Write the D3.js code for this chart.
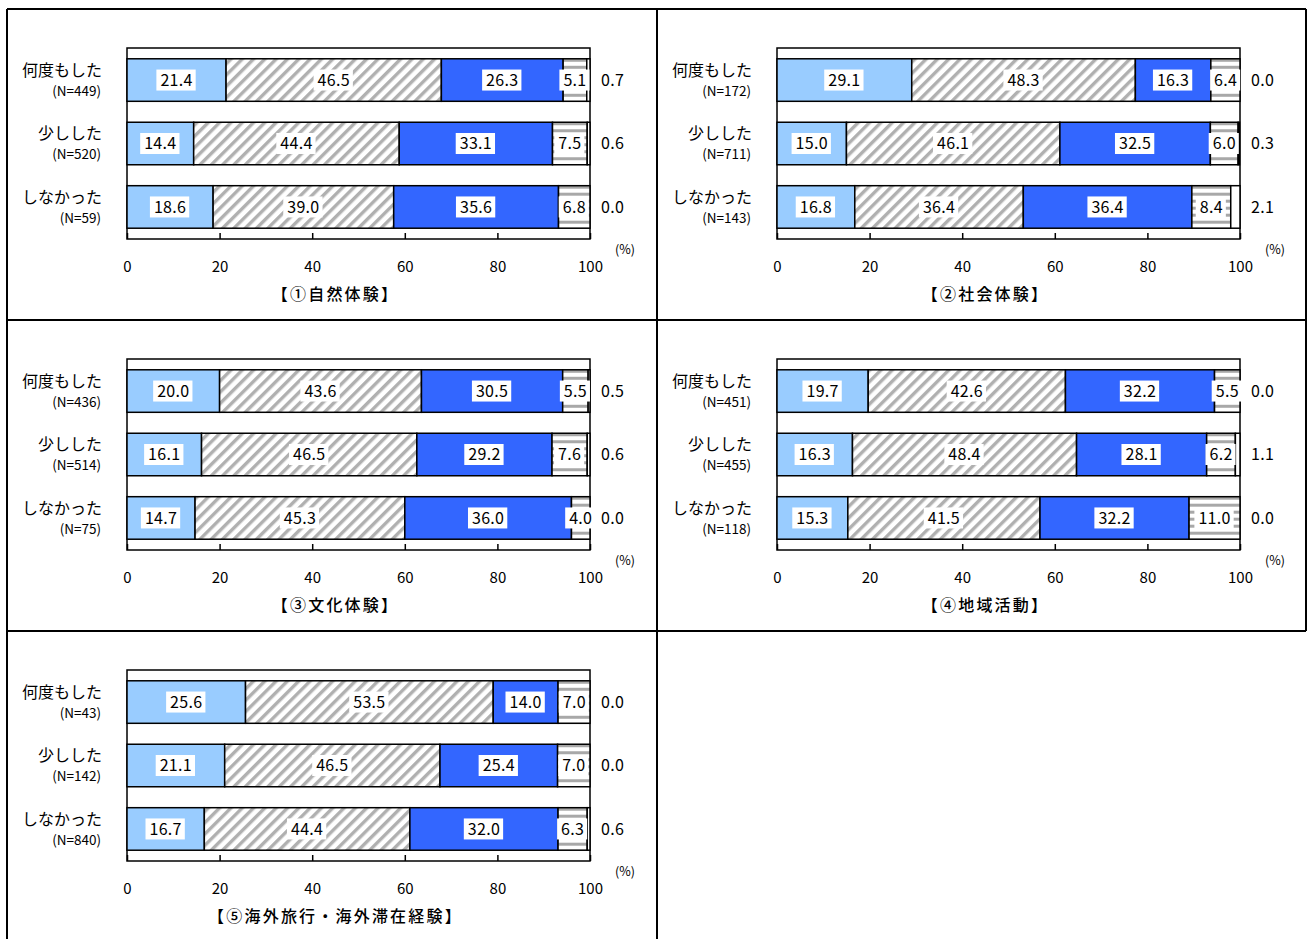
<!DOCTYPE html>
<html lang="ja">
<head>
<meta charset="UTF-8">
<script src="https://cdnjs.cloudflare.com/ajax/libs/d3/7.8.5/d3.min.js"></script>
<style>
    body { margin: 0; background: #fff; }
    text { font-family: "Noto Sans CJK JP", sans-serif; fill: #000; }
</style>
</head>
<body>
<svg id="chart" width="1308" height="939"></svg>
<script>
    // panel titles
    var titles = ['【①自然体験】', '【②社会体験】', '【③文化体験】', '【④地域活動】', '【⑤海外旅行・海外滞在経験】'];
    var groups = ['何度もした', '少しした', 'しなかった'];

    // N per group, per panel
    var counts = [
        [449, 520, 59],
        [172, 711, 143],
        [436, 514, 75],
        [451, 455, 118],
        [43, 142, 840]
    ];

    // five answer shares for each group (%), per panel
    var shares = [
        [[21.4, 46.5, 26.3, 5.1, 0.7], [14.4, 44.4, 33.1, 7.5, 0.6], [18.6, 39.0, 35.6, 6.8, 0.0]],
        [[29.1, 48.3, 16.3, 6.4, 0.0], [15.0, 46.1, 32.5, 6.0, 0.3], [16.8, 36.4, 36.4, 8.4, 2.1]],
        [[20.0, 43.6, 30.5, 5.5, 0.5], [16.1, 46.5, 29.2, 7.6, 0.6], [14.7, 45.3, 36.0, 4.0, 0.0]],
        [[19.7, 42.6, 32.2, 5.5, 0.0], [16.3, 48.4, 28.1, 6.2, 1.1], [15.3, 41.5, 32.2, 11.0, 0.0]],
        [[25.6, 53.5, 14.0, 7.0, 0.0], [21.1, 46.5, 25.4, 7.0, 0.0], [16.7, 44.4, 32.0, 6.3, 0.6]]
    ];

    var ticks = [0, 20, 40, 60, 80, 100];

    var svg = d3.select('#chart');

    // patterns
    var defs = svg.append('defs');
    var diag = defs.append('pattern')
            .attr('id', 'diag')
            .attr('patternUnits', 'userSpaceOnUse')
            .attr('width', 8).attr('height', 8)
            .attr('patternTransform', 'rotate(45)');
    diag.append('rect').attr('width', 8).attr('height', 8).attr('fill', '#fff');
    diag.append('rect').attr('width', 3.4).attr('height', 8).attr('fill', '#b0b0b0');

    var horiz = defs.append('pattern')
            .attr('id', 'horiz')
            .attr('patternUnits', 'userSpaceOnUse')
            .attr('width', 8).attr('height', 7);
    horiz.append('rect').attr('width', 8).attr('height', 7).attr('fill', '#fff');
    horiz.append('rect').attr('y', 0).attr('width', 8).attr('height', 3).attr('fill', '#a8a8a8');

    var fills = ['#99ccff', 'url(#diag)', '#3366ff', 'url(#horiz)', '#ffffff'];

    // panel frame
    var frame = svg.append('g').attr('stroke', '#000').attr('stroke-width', 2);
    [[7, 9, 1306, 9], [7, 320, 1306, 320], [7, 631, 1306, 631],
        [7, 9, 7, 939], [657, 9, 657, 939], [1306, 9, 1306, 631]].forEach(function (l) {
        frame.append('line').attr('x1', l[0]).attr('y1', l[1]).attr('x2', l[2]).attr('y2', l[3]);
    });

    var plotLeft = 120, plotWidth = 463, plotTop = 39, plotHeight = 191;

    var x = d3.scaleLinear().domain([0, 100]).range([0, plotWidth]);
    var y = d3.scaleBand().domain(groups).range([0, plotHeight]).paddingInner(0.33).paddingOuter(0.17);

    for (var p = 0; p < titles.length; p++) {
        drawPanel(p);
    }

    function drawPanel(p) {
        var ox = 7 + (p % 2) * 650;
        var oy = 9 + Math.floor(p / 2) * 311;
        var panel = svg.append('g').attr('transform', 'translate(' + ox + ',' + oy + ')');
        var plot = panel.append('g').attr('transform', 'translate(' + plotLeft + ',' + plotTop + ')');

        plot.append('rect')
                .attr('width', plotWidth).attr('height', plotHeight)
                .attr('fill', '#fff').attr('stroke', '#000').attr('stroke-width', 1.5);

        var rows = plot.selectAll('.row')
                .data(groups)
                .enter().append('g')
                .attr('class', 'row')
                .attr('transform', function (d) { return 'translate(0,' + y(d) + ')'; });

        rows.each(function (g, gi) {
            var vals = shares[p][gi];
            var acc = 0;
            var segs = vals.map(function (v, i) {
                var s = { i: i, v: v, x0: acc, x1: acc + v };
                acc += v;
                return s;
            });
            var row = d3.select(this);
            row.selectAll('rect.seg')
                    .data(segs)
                    .enter().append('rect')
                    .attr('class', 'seg')
                    .attr('x', function (d) { return x(d.x0); })
                    .attr('width', function (d) { return Math.max(0, x(Math.min(d.x1, 100)) - x(d.x0)); })
                    .attr('height', y.bandwidth())
                    .attr('fill', function (d) { return fills[d.i]; })
                    .attr('stroke', '#000').attr('stroke-width', 1.5);

            // value labels (first four inside, fifth outside)
            segs.forEach(function (d) {
                var label = d.v.toFixed(1);
                var cx = d.i < 4 ? x((d.x0 + d.x1) / 2) : plotWidth + 11;
                var t = row.append('text')
                        .attr('x', cx)
                        .attr('y', y.bandwidth() / 2)
                        .attr('dy', '0.36em')
                        .attr('text-anchor', d.i < 4 ? 'middle' : 'start')
                        .attr('font-size', 16)
                        .attr('letter-spacing', 0.3)
                        .text(label);
                if (d.i < 4) {
                    var bb = t.node().getBBox();
                    row.insert('rect', function () { return t.node(); })
                            .attr('x', bb.x - 4).attr('y', y.bandwidth() / 2 - 10.5)
                            .attr('width', bb.width + 7).attr('height', 21)
                            .attr('fill', '#fff');
                }
            });

            // group labels on the left
            panel.append('text')
                    .attr('x', 95).attr('y', plotTop + y(g) + y.bandwidth() / 2 - 10)
                    .attr('dy', '0.36em')
                    .attr('text-anchor', 'end')
                    .attr('font-size', 16)
                    .text(g);
            panel.append('text')
                    .attr('x', 94).attr('y', plotTop + y(g) + y.bandwidth() / 2 + 11)
                    .attr('dy', '0.36em')
                    .attr('text-anchor', 'end')
                    .attr('font-size', 13.5)
                    .text('(N=' + counts[p][gi] + ')');
        });

        // axis: ticks inside the box, labels below
        var axis = plot.append('g')
                .attr('transform', 'translate(0,' + plotHeight + ')')
                .call(d3.axisBottom(x).tickValues(ticks).tickSize(-6).tickPadding(22));
        axis.select('.domain').remove();
        axis.selectAll('line').attr('stroke', '#000').attr('stroke-width', 1.5);
        axis.selectAll('text')
                .attr('font-family', '"Noto Sans CJK JP", sans-serif')
                .attr('font-size', 15)
                .attr('fill', '#000');

        plot.append('text')
                .attr('x', plotWidth + 25).attr('y', plotHeight + 10)
                .attr('dy', '0.36em')
                .attr('font-size', 12.5)
                .text('(%)');

        panel.append('text')
                .attr('x', plotLeft + plotWidth / 2 - 23).attr('y', 285)
                .attr('dy', '0.36em')
                .attr('text-anchor', 'middle')
                .attr('font-size', 16)
                .attr('font-weight', 500)
                .attr('letter-spacing', 2.2)
                .text(titles[p]);
    }
</script>
</body>
</html>
